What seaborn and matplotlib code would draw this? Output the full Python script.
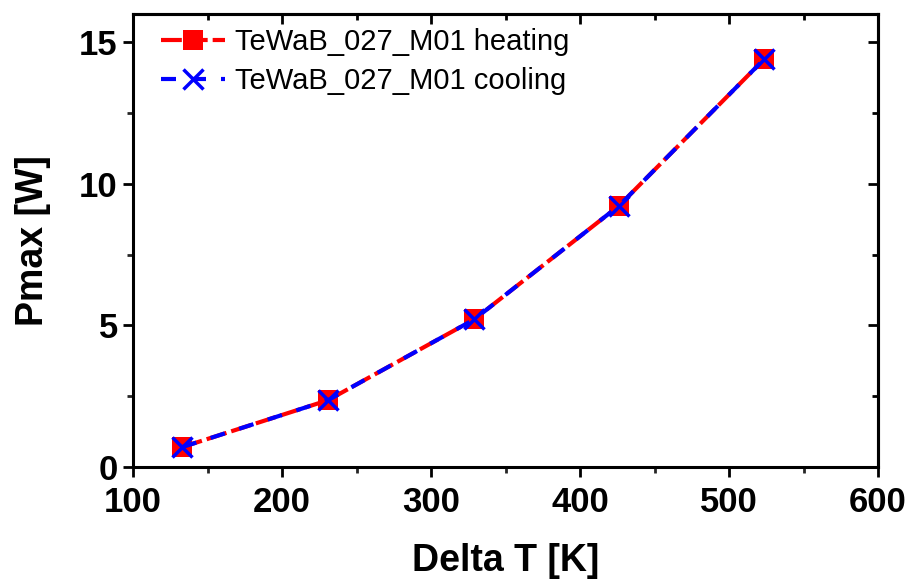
import matplotlib
matplotlib.use("Agg")
import matplotlib.pyplot as plt
import seaborn as sns
import pandas as pd
from matplotlib.ticker import MultipleLocator

delta_t = [132.9, 230.9, 328.9, 426.2, 523.5]
pmax_heating = [0.70, 2.36, 5.21, 9.23, 14.40]
pmax_cooling = [0.70, 2.36, 5.21, 9.23, 14.40]
series_names = ["TeWaB_027_M01 heating", "TeWaB_027_M01 cooling"]

sns.set_theme(style="white")
plt.rcParams['font.family'] = ['Liberation Sans', 'DejaVu Sans']
plt.rcParams['text.color'] = 'black'
plt.rcParams['axes.labelcolor'] = 'black'

fig = plt.figure(figsize=(9.08, 5.83), dpi=100)
ax = fig.add_axes([0.1465, 0.199, 0.8205, 0.777])

df_h = pd.DataFrame({"x": delta_t, "y": pmax_heating})
df_c = pd.DataFrame({"x": delta_t, "y": pmax_cooling})

RED = "#ff0000"
BLUE = "#0000ff"
sns.lineplot(data=df_h, x="x", y="y", ax=ax, color=RED, linewidth=3,
             marker="s", markersize=14, label=series_names[0])
sns.lineplot(data=df_c, x="x", y="y", ax=ax, color=BLUE, linewidth=3,
             marker="x", markersize=14, label=series_names[1])
lines = ax.get_lines()
l_h, l_c = lines[0], lines[1]
l_h.set_dashes((5, 1.2))
l_h.set_markerfacecolor(RED)
l_h.set_markeredgecolor(RED)
l_h.set_markeredgewidth(0)
l_c.set_dashes((3.6, 3.6))
l_c.set_markerfacecolor(BLUE)
l_c.set_markeredgecolor(BLUE)
l_c.set_markeredgewidth(2.5)

ax.set_xlim(100, 600)
ax.set_ylim(0, 16)
ax.xaxis.set_major_locator(MultipleLocator(100))
ax.xaxis.set_minor_locator(MultipleLocator(50))
ax.yaxis.set_major_locator(MultipleLocator(5))
ax.yaxis.set_minor_locator(MultipleLocator(2.5))

for s in ax.spines.values():
    s.set_visible(True)
    s.set_color("black")
    s.set_linewidth(2.2)

ax.tick_params(axis="both", which="major", direction="out", length=7, width=2,
               labelsize=25, colors="black", bottom=True, left=True)
ax.tick_params(axis="x", which="major", pad=7)
ax.tick_params(axis="y", which="major", pad=4)
ax.tick_params(axis="both", which="minor", direction="out", length=4, width=2,
               bottom=True, left=True)
for lab in ax.get_xticklabels() + ax.get_yticklabels():
    lab.set_fontweight("bold")

ax.set_xlabel("Delta T [K]", fontsize=27, fontweight="bold", labelpad=17)
ax.set_ylabel("Pmax [W]", fontsize=27, fontweight="bold", labelpad=20)

# mirrored inward ticks on top/right
axt = ax.secondary_xaxis("top")
axt.xaxis.set_major_locator(MultipleLocator(100))
axt.xaxis.set_minor_locator(MultipleLocator(50))
axt.tick_params(which="major", direction="in", length=7, width=2, labeltop=False, colors="black")
axt.tick_params(which="minor", direction="in", length=4, width=2, colors="black")
axt.spines["top"].set_linewidth(2.2)
axt.spines["top"].set_color("black")
axr = ax.secondary_yaxis("right")
axr.yaxis.set_major_locator(MultipleLocator(5))
axr.yaxis.set_minor_locator(MultipleLocator(2.5))
axr.tick_params(which="major", direction="in", length=7, width=2, labelright=False, colors="black")
axr.tick_params(which="minor", direction="in", length=4, width=2, colors="black")
axr.spines["right"].set_linewidth(2.2)
axr.spines["right"].set_color("black")

leg = ax.legend(loc="upper left", frameon=False, fontsize=21, handlelength=2.2,
                borderaxespad=0.0, labelspacing=0.38, handletextpad=0.35,
                bbox_to_anchor=(0.022, 0.995))

fig.savefig("out.png", dpi=100)
